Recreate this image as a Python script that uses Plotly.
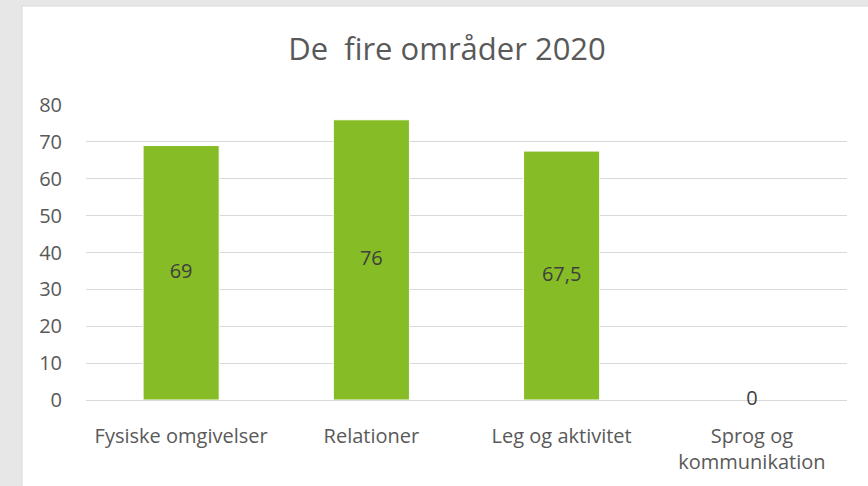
import plotly.graph_objects as go

categories = ["Fysiske omgivelser", "Relationer", "Leg og aktivitet", "Sprog og<br>kommunikation"]
values = [69, 76, 67.5, 0]
value_labels = ["69", "76", "67,5", "0"]
y_ticks = [0, 10, 20, 30, 40, 50, 60, 70, 80]
title_text = "De  fire områder 2020"

FONT = "Open Sans"
W, H = 868, 486
ML, MR, MT, MB = 86, 21, 105, 86
PW = W - ML - MR
PH = H - MT - MB

def px_x(px):
    return (px - ML) / PW

def px_y(py):
    return (H - MB - py) / PH

fig = go.Figure()
fig.add_trace(go.Bar(
    x=categories, y=values, width=0.4,
    marker=dict(color="#86bc25", line=dict(color="#ffffff", width=1)),
    hoverinfo="skip",
))
fig.add_trace(go.Scatter(
    x=categories, y=[v / 2 for v in values], mode="text",
    text=value_labels, textposition="middle center", cliponaxis=False,
    textfont=dict(family=FONT, size=20, color="#404040"),
    hoverinfo="skip",
))

fig.update_layout(
    width=W, height=H,
    margin=dict(l=ML, r=MR, t=MT, b=MB, pad=0),
    paper_bgcolor="#e7e7e7",
    plot_bgcolor="rgba(0,0,0,0)",
    showlegend=False,
    title=dict(text=title_text, x=447 / W, xanchor="center", y=1 - 49 / H, yanchor="middle",
               font=dict(family=FONT, size=31, color="#595959")),
    font=dict(family=FONT, color="#595959"),
    shapes=[
        dict(type="rect", xref="paper", yref="paper", layer="below",
             x0=px_x(22), x1=px_x(870), y0=px_y(6), y1=px_y(488),
             fillcolor="#ffffff", line=dict(color="#d9d9d9", width=1)),
    ],
)
fig.update_xaxes(
    showgrid=False, showline=False, ticks="", ticklabelstandoff=22,
    tickfont=dict(family=FONT, size=20, color="#595959"),
    fixedrange=True,
)
fig.update_yaxes(
    range=[0, 80], tickvals=y_ticks, showgrid=True, gridcolor="#d9d9d9", gridwidth=1.2,
    zeroline=True, zerolinecolor="#d9d9d9", zerolinewidth=1.2,
    ticks="", ticklabelstandoff=23, showline=False,
    tickfont=dict(family=FONT, size=20, color="#595959"),
    fixedrange=True,
)

fig.write_html("out.html", config=dict(displayModeBar=False),
               post_script="document.body.style.margin='0';document.body.style.padding='0';")
